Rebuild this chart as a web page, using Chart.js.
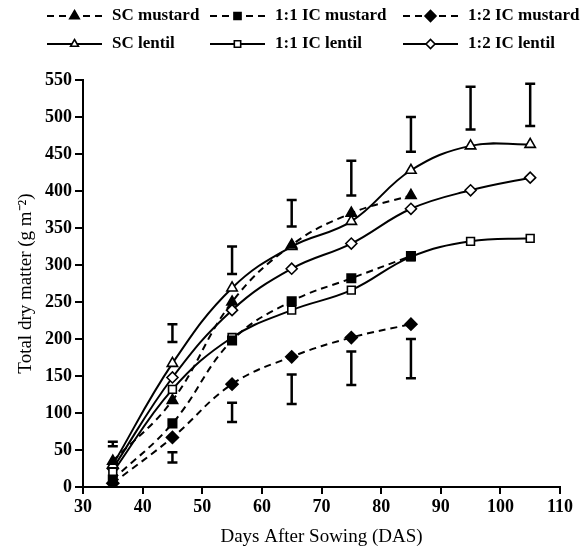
<!DOCTYPE html>
<html>
<head>
<meta charset="utf-8">
<script src="https://cdn.jsdelivr.net/npm/chart.js@4.4.1/dist/chart.umd.min.js"></script>
<style>
  html, body { margin: 0; padding: 0; background: #fff; }
  #wrap { width: 587px; height: 548px; position: relative; }
</style>
</head>
<body>
<div id="wrap"><canvas id="c" width="587" height="548"></canvas></div>
<script>
// ---- data ----
const daysMustard = [35, 45, 55, 65, 75, 85];
const daysLentil = [35, 45, 55, 65, 75, 85, 95, 105];
const scMustard = [35, 117, 250, 327, 370, 394];
const ic11Mustard = [10, 86, 198, 251, 282, 312];
const ic12Mustard = [5, 67, 139, 176, 202, 220];
const scLentil = [30, 167, 269, 325, 359, 428, 461, 463];
const ic11Lentil = [20, 132, 202, 239, 266, 311, 332, 336];
const ic12Lentil = [25, 148, 239, 295, 329, 376, 401, 418];
// error (LSD) bars
const errDays = [35, 45, 45, 55, 55, 65, 65, 75, 75, 85, 85, 95, 105];
const errLow  = [55, 196, 33, 288, 88, 352, 112, 394, 138, 453, 147, 483, 488];
const errHigh = [61, 220, 47, 325, 114, 388, 152, 441, 183, 500, 200, 541, 545];
const xTicks = [30, 40, 50, 60, 70, 80, 90, 100, 110];
const yTicks = [0, 50, 100, 150, 200, 250, 300, 350, 400, 450, 500, 550];

const pts = (xs, ys) => ys.map((v, i) => ({ x: xs[i], y: v }));
const DASH = [7, 5];
const FONT = '"Liberation Serif", "Times New Roman", serif';

function ds(label, xs, ys, style, filled, dashed, radius, legendRadius) {
  return {
    label, data: pts(xs, ys),
    borderColor: '#000', borderWidth: 2, borderDash: dashed ? DASH : [],
    backgroundColor: filled ? '#000' : '#fff',
    pointStyle: style, pointRadius: radius, pointBorderWidth: 1.6,
    pointBorderColor: '#000', pointBackgroundColor: filled ? '#000' : '#fff',
    tension: 0.4, fill: false, _dashed: dashed, _legendRadius: legendRadius
  };
}

const datasets = [
  ds('SC mustard', daysMustard, scMustard, 'triangle', true, true, 6, 5.5),
  ds('1:1 IC mustard', daysMustard, ic11Mustard, 'rect', true, true, 6, 5),
  ds('1:2 IC mustard', daysMustard, ic12Mustard, 'rectRot', true, true, 6, 5.5),
  ds('SC lentil', daysLentil, scLentil, 'triangle', false, false, 6, 4.5),
  ds('1:1 IC lentil', daysLentil, ic11Lentil, 'rect', false, false, 5.5, 4.5),
  ds('1:2 IC lentil', daysLentil, ic12Lentil, 'rectRot', false, false, 5.5, 4.5)
];

// error bars drawn through the chart scales
const errorBars = {
  id: 'errorBars',
  afterDatasetsDraw(chart) {
    const { ctx, scales: { x, y } } = chart;
    ctx.save();
    ctx.strokeStyle = '#000';
    ctx.lineWidth = 2.5;
    errDays.forEach((d, i) => {
      const px = x.getPixelForValue(d);
      const y1 = y.getPixelForValue(errLow[i]);
      const y2 = y.getPixelForValue(errHigh[i]);
      ctx.beginPath();
      ctx.moveTo(px, y1); ctx.lineTo(px, y2);
      ctx.moveTo(px - 5, y1); ctx.lineTo(px + 5, y1);
      ctx.moveTo(px - 5, y2); ctx.lineTo(px + 5, y2);
      ctx.stroke();
    });
    ctx.restore();
  }
};

// custom column-aligned legend
const colLegend = {
  id: 'colLegend',
  afterDraw(chart) {
    const { ctx } = chart;
    const colX = [47, 210, 403];
    const rowY = [16, 44];
    ctx.save();
    chart.data.datasets.forEach((d, i) => {
      const col = i % 3, row = Math.floor(i / 3);
      const x0 = colX[col], yy = rowY[row];
      ctx.strokeStyle = '#000';
      ctx.lineWidth = 2;
      ctx.setLineDash(d._dashed ? DASH : []);
      ctx.beginPath();
      ctx.moveTo(x0, yy); ctx.lineTo(x0 + 55, yy);
      ctx.stroke();
      ctx.setLineDash([]);
      ctx.fillStyle = d.pointBackgroundColor;
      ctx.strokeStyle = '#000';
      ctx.lineWidth = 1.6;
      Chart.helpers.drawPoint(ctx, {
        pointStyle: d.pointStyle, radius: d._legendRadius, rotation: 0, borderWidth: 1.6
      }, x0 + 27.5, yy);
      ctx.fillStyle = '#000';
      ctx.font = 'bold 17px ' + FONT;
      ctx.textBaseline = 'middle';
      ctx.textAlign = 'left';
      ctx.fillText(d.label, x0 + 65, yy);
    });
    ctx.restore();
  }
};

new Chart(document.getElementById('c'), {
  type: 'line',
  data: { datasets },
  options: {
    responsive: false,
    animation: false,
    devicePixelRatio: 1,
    layout: { padding: { left: 15, right: 27, top: 80, bottom: 0 } },
    plugins: { legend: { display: false }, tooltip: { enabled: false } },
    scales: {
      x: {
        type: 'linear', min: 30, max: 110,
        afterBuildTicks: s => { s.ticks = xTicks.map(v => ({ value: v })); },
        afterFit: s => { s.height = 61; },
        grid: { drawOnChartArea: false, drawTicks: true, tickLength: 7, color: '#000', lineWidth: 2 },
        border: { display: true, color: '#000', width: 2 },
        ticks: { color: '#000', padding: 3, font: { family: FONT, size: 18, weight: 'bold' }, maxRotation: 0 },
        title: { display: true, text: 'Days After Sowing (DAS)', color: '#000', padding: 0,
                 font: { family: FONT, size: 19, weight: 'normal' } }
      },
      y: {
        type: 'linear', min: 0, max: 550,
        afterBuildTicks: s => { s.ticks = yTicks.map(v => ({ value: v })); },
        afterFit: s => { s.width = 68; },
        grid: { drawOnChartArea: false, drawTicks: true, tickLength: 8, color: '#000', lineWidth: 2 },
        border: { display: true, color: '#000', width: 2 },
        ticks: { color: '#000', padding: 3, font: { family: FONT, size: 18, weight: 'bold' } },
        title: { display: true, text: 'Total dry matter (g m\u207B\u00B2)', color: '#000', padding: 0,
                 font: { family: FONT, size: 19, weight: 'normal' } }
      }
    }
  },
  plugins: [errorBars, colLegend]
});
</script>
</body>
</html>
